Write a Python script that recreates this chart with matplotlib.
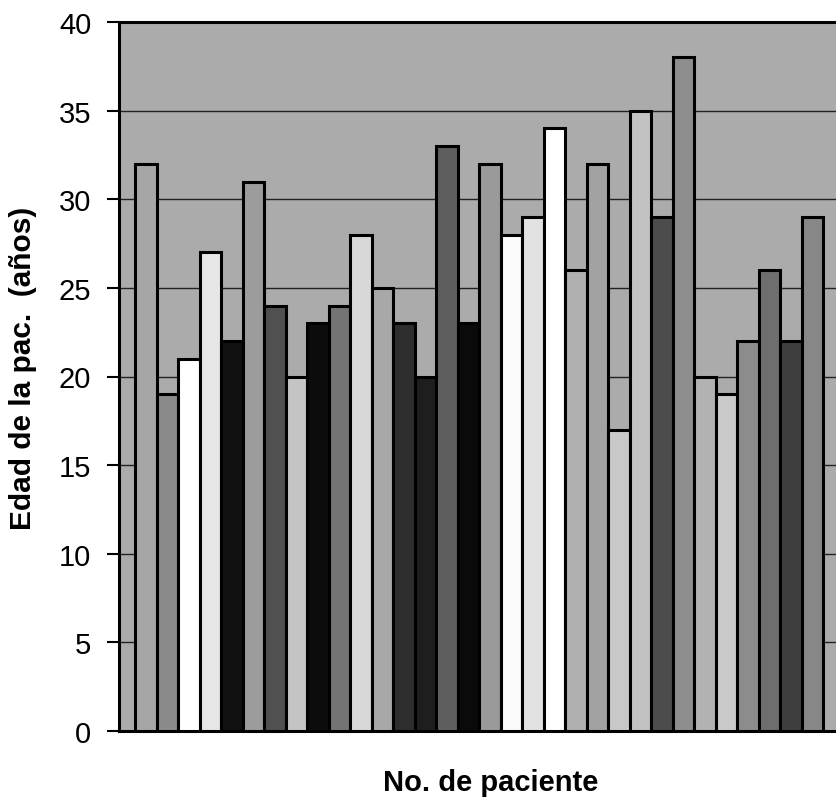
import matplotlib.pyplot as plt
import numpy as np

plt.rcParams["font.family"] = ["Liberation Sans", "DejaVu Sans"]

# edades (un valor por paciente)
pacientes = list(range(1, 33))
edades = [32, 19, 21, 27, 22, 31, 24, 20, 23, 24, 28, 25, 23, 20, 33, 23,
          32, 28, 29, 34, 26, 32, 17, 35, 29, 38, 20, 19, 22, 26, 22, 29]
# tono de gris de cada barra (tramado en el original)
grises = ["#a6a6a6", "#8a8a8a", "#ffffff", "#e6e6e6", "#111111", "#9c9c9c",
          "#505050", "#c4c4c4", "#0c0c0c", "#747474", "#d8d8d8", "#a8a8a8",
          "#2e2e2e", "#1e1e1e", "#5e5e5e", "#0a0a0a", "#9a9a9a", "#fafafa",
          "#e2e2e2", "#ffffff", "#b0b0b0", "#a2a2a2", "#c8c8c8", "#c2c2c2",
          "#4c4c4c", "#8e8e8e", "#b2b2b2", "#cacaca", "#8c8c8c", "#6e6e6e",
          "#3e3e3e", "#878787"]
yticks = [0, 5, 10, 15, 20, 25, 30, 35, 40]

fig = plt.figure(figsize=(8.36, 8.03), dpi=100)
ax = fig.add_axes([119 / 836, 71 / 803, 717 / 836, 709 / 803])
ax.set_facecolor("#ababab")

x = np.arange(len(edades))
ax.bar(x, edades, width=1.0, color=grises, edgecolor="black",
       linewidth=2.2, zorder=3)

ax.set_ylim(0, 40)
ax.set_xlim(-1.244, 32.1)
ax.set_yticks(yticks)
ax.set_xticks([])
ax.yaxis.grid(True, color="#222222", linewidth=1.0, zorder=1)
ax.set_axisbelow(True)

ax.spines["right"].set_visible(False)
for s in ["left", "bottom", "top"]:
    ax.spines[s].set_linewidth(2.2)
ax.tick_params(axis="y", direction="out", length=9, width=1.5, pad=11,
               labelsize=21)

fig.text(491 / 836, 1 - 783 / 803, "No. de paciente", fontsize=21,
         fontweight="bold", ha="center", va="center")
fig.text(23 / 836, 1 - 368 / 803, "Edad de la pac.  (años)", fontsize=21.5,
         fontweight="bold", ha="center", va="center", rotation=90)

fig.savefig("out.png", dpi=100)
